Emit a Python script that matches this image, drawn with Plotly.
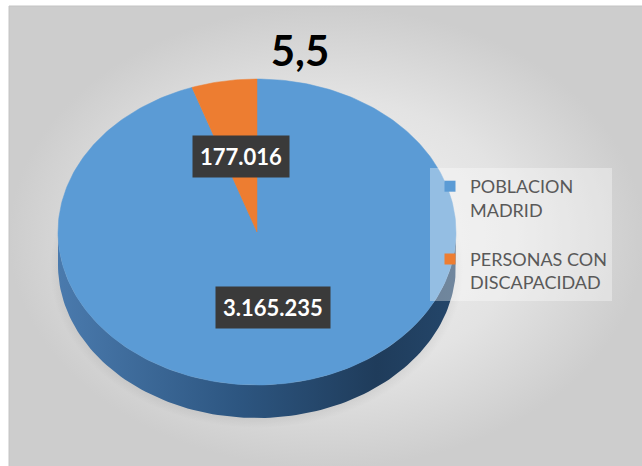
import numpy as np
import plotly.graph_objects as go

# ---------------- data ----------------
categories = ["POBLACION MADRID", "PERSONAS CON DISCAPACIDAD"]
values = [3165235, 177016]
colors = ["#5B9BD5", "#ED7D31"]
title_text = "5,5"

# ---------------- geometry / style (pixels -> units) ----------------
W, H = 642, 466
CX, CY = 257, 232          # centre of the pie's top face (px)
S = 199.0                  # px per unit (also x radius)
RY_PX, DEPTH_PX = 153, 33


def ux(px):
    return (px - CX) / S


def uy(py):
    return (CY - py) / S


rx = 1.0
ry = RY_PX / S
depth = DEPTH_PX / S

total = float(sum(values))
start_angle = 90.0  # 12 o'clock, clockwise

fig = go.Figure()

# background panel with a soft radial gradient
bx = [ux(9), ux(W + 2), ux(W + 2), ux(9), ux(9)]
by = [uy(6), uy(6), uy(H + 2), uy(H + 2), uy(6)]
fig.add_trace(go.Scatter(
    x=bx, y=by, mode="lines", fill="toself",
    line=dict(color="#c4c4c4", width=1),
    fillgradient=dict(type="radial",
                      colorscale=[[0, "#f4f4f4"], [0.6, "#e3e3e3"], [1, "#cdcdcd"]]),
    hoverinfo="skip", showlegend=False))

# soft shadow under the pie
t = np.linspace(0, 2 * np.pi, 200)
fig.add_trace(go.Scatter(
    x=1.04 * rx * np.cos(t), y=1.04 * ry * np.sin(t) - depth - 0.02,
    mode="lines", fill="toself", line=dict(width=0, color="rgba(0,0,0,0)"),
    fillgradient=dict(type="radial",
                      colorscale=[[0, "rgba(0,0,0,0.22)"], [0.85, "rgba(0,0,0,0.15)"],
                                  [1, "rgba(0,0,0,0)"]]),
    hoverinfo="skip", showlegend=False))

# slice angle ranges (degrees, clockwise from 12 o'clock)
ranges = []
cum = 0.0
for v in values:
    a0 = start_angle - 360.0 * cum / total
    a1 = a0 - 360.0 * v / total
    ranges.append((a1, a0))
    cum += v

side_scale = [[0, "#4a7aad"], [0.45, "#2d5681"], [0.8, "#1f3c5b"], [1, "#24466a"]]

# sides (visible front part: angles whose sine is negative)
for (lo, hi), col in zip(ranges, colors):
    for k in range(-2, 2):
        s_lo = max(lo, 180 + 360 * k)
        s_hi = min(hi, 360 + 360 * k)
        if s_hi <= s_lo:
            continue
        tt = np.radians(np.linspace(s_lo, s_hi, 120))
        xs = np.concatenate([rx * np.cos(tt), rx * np.cos(tt[::-1])])
        ys = np.concatenate([ry * np.sin(tt), ry * np.sin(tt[::-1]) - depth])
        fig.add_trace(go.Scatter(
            x=xs, y=ys, mode="lines", fill="toself",
            line=dict(width=0, color="rgba(0,0,0,0)"),
            fillgradient=dict(type="horizontal", colorscale=side_scale),
            hoverinfo="skip", showlegend=False))

# top faces
for (lo, hi), col, cat in zip(ranges, colors, categories):
    n = max(4, int(abs(hi - lo)))
    tt = np.radians(np.linspace(hi, lo, n))
    xs = np.concatenate([[0], rx * np.cos(tt), [0]])
    ys = np.concatenate([[0], ry * np.sin(tt), [0]])
    fig.add_trace(go.Scatter(
        x=xs, y=ys, mode="lines", fill="toself", fillcolor=col,
        line=dict(width=0.5, color=col), name=cat,
        hoverinfo="name", showlegend=False))

# legend entries


def wrap(s):
    a, b = s.rsplit(" ", 1)
    return a + "<br>" + b


for cat, col in zip(categories, colors):
    fig.add_trace(go.Scatter(
        x=[None], y=[None], mode="markers",
        marker=dict(symbol="square", size=11, color=col),
        name=wrap(cat), legendgroup=cat))

# data labels
for (lo, hi), v in zip(ranges, values):
    mid = np.radians((lo + hi) / 2)
    fig.add_annotation(
        x=0.5 * rx * np.cos(mid), y=0.5 * ry * np.sin(mid),
        text="<b>" + f"{v:,}".replace(",", ".") + "</b>",
        showarrow=False, bgcolor="#3a3a3a", borderpad=7,
        font=dict(family="Lato", size=22, color="white"))

fig.update_layout(
    width=W, height=H,
    margin=dict(l=0, r=0, t=0, b=0),
    paper_bgcolor="white", plot_bgcolor="white",
    title=dict(text="<b>" + title_text + "</b>", x=300 / W, xanchor="center",
               y=1 - 51 / H, yanchor="middle", yref="container",
               font=dict(family="Lato", size=42, color="black")),
    xaxis=dict(range=[ux(0), ux(W)], visible=False, fixedrange=True),
    yaxis=dict(range=[uy(H), uy(0)], visible=False, fixedrange=True),
    legend=dict(x=430 / W, y=1 - 168 / H, xanchor="left", yanchor="top",
                bgcolor="rgba(255,255,255,0.35)",
                font=dict(family="Lato", size=18, color="#595959"),
                valign="top", tracegroupgap=23),
    showlegend=True,
)

fig.write_html("out.html", config={"displayModeBar": False})
